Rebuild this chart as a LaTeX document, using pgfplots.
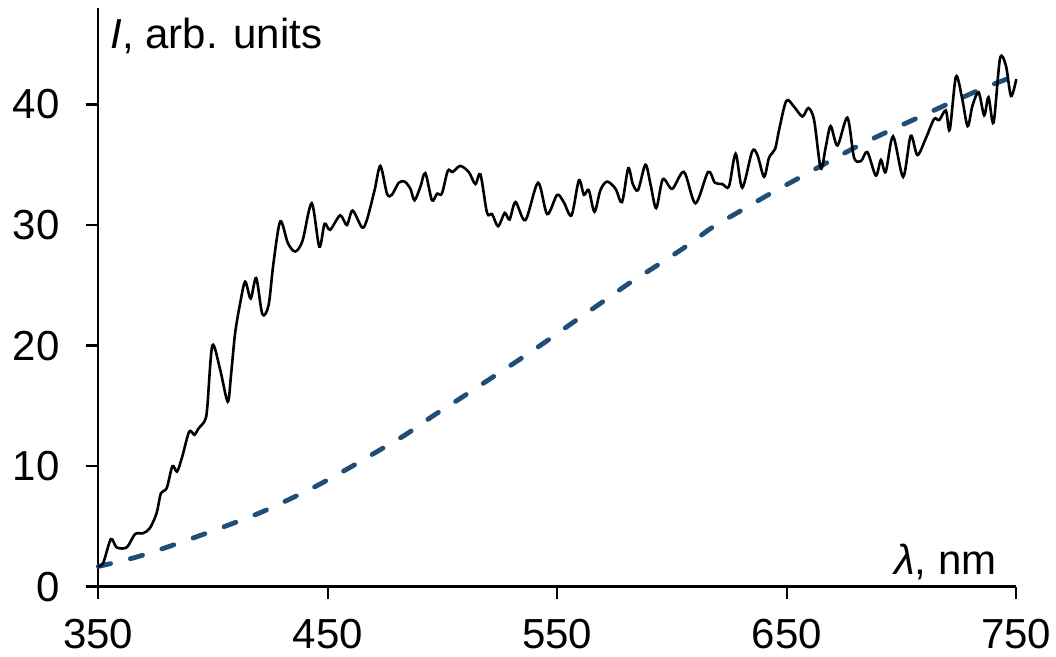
\documentclass[border=0pt]{standalone}
\usepackage{fontspec}
\setmainfont{Liberation Sans}
\usepackage{pgfplots}
\pgfplotsset{compat=1.18}
\definecolor{dashblue}{RGB}{31,78,121}
\pgfplotstableread{
x y
350 1.68
352.2 2.0
355.5 3.95
358 3.26
362.4 3.26
366 4.36
369.6 4.44
372.5 4.86
375.4 6.1
377.3 7.76
379.8 8.17
382.3 10.0
384.3 9.55
386.6 10.8
389.6 12.86
391.9 12.6
393.6 13.1
396.5 13.8
397.5 14.9
399.7 20.0
403.1 18.0
406.4 15.35
407.9 17.7
409.6 21.0
411.8 23.5
414 25.3
416.4 23.9
418.8 25.6
421.5 22.6
424.2 23.35
426.3 26.8
429.3 30.3
432.6 28.5
435.8 27.8
439.0 28.7
443.0 31.8
446.3 28.2
448.6 30.1
451.0 29.6
455.4 30.8
458.3 30.0
460.8 31.2
464.9 29.8
467.0 30.4
470.4 32.9
472.9 34.9
475.8 32.6
477.9 32.5
480.9 33.5
483.5 33.6
486.0 33.0
487.8 32.05
490.3 33.15
492.5 34.3
495.4 32.05
497.6 32.6
499.7 32.6
502.3 34.5
504.4 34.4
507.7 34.9
511.4 34.4
514.3 33.4
516.5 34.2
519.4 31.0
521.6 30.9
524.2 29.9
527.1 31.0
529.2 30.45
531.8 31.9
536.1 30.4
541.6 33.5
545.6 30.9
549.9 32.5
552.8 31.9
556.2 30.8
559.4 33.7
561.6 32.5
563.7 32.9
566.2 31.1
568.8 32.9
571.7 33.6
575.4 33.0
578.2 31.9
580.9 34.7
582.9 33.4
585.2 32.9
588.4 35.0
590.6 33.4
593.1 31.4
596.0 33.8
600.1 33.0
605.2 34.4
610.2 31.8
615.7 34.4
618.7 33.5
621.9 33.4
624.8 33.2
627.7 35.9
630.6 33.1
634.9 36.1
637.2 35.8
640.1 34.0
642.3 35.6
644.9 36.3
646.6 37.85
649.8 40.3
653.2 39.8
656.8 39.0
659.4 39.7
661.9 38.7
664.8 34.7
667.0 36.5
669.1 38.2
672.1 36.6
676.4 38.9
679.3 35.6
682.3 35.3
685.1 36.05
688.8 34.1
691.0 35.4
693.1 34.4
696.3 37.35
700.7 34.0
704.0 37.4
706.9 35.8
710.6 37.2
714.2 38.8
716.4 38.7
719.3 39.5
721.0 37.9
723.7 42.3
726.3 40.6
728.8 38.2
730.9 39.9
733.6 41.0
736.0 39.1
737.9 40.6
740.1 38.5
742.9 43.8
745.5 43.2
747.7 40.7
750 42.1
}\measured
\pgfplotstableread{
x y
350 1.68
367.4 2.5
389.3 3.9
418.3 5.96
435.8 7.48
446.0 8.45
459.1 9.83
471.4 11.2
483.8 12.6
496.1 14.2
508.4 15.7
520.4 17.2
532.4 18.7
544.8 20.3
556.7 21.9
568.8 23.5
580.8 25.1
593.1 26.6
605.9 28.2
617.5 29.8
629.2 31.1
643.7 32.7
652.4 33.6
681.5 36.6
707.7 38.95
733.9 41.2
750 42.4
}\model
\begin{document}
\fontsize{21pt}{25pt}\selectfont
\begin{tikzpicture}
\useasboundingbox (-49.15pt,-35.15pt) rectangle (478.85pt,293.35pt);
\begin{axis}[
  at={(0,0)}, anchor=south west,
  scale only axis, width=459pt, height=289.35pt,
  xmin=350, xmax=750, ymin=0, ymax=48,
  axis x line=bottom, axis y line=left,
  axis line style={-, line width=1.2pt, black},
  every outer x axis line/.append style={-},
  every outer y axis line/.append style={-},
  xtick={350,450,550,650,750}, ytick={0,10,20,30,40},
  minor tick num=0,
  tick align=outside, major tick length=6.3pt,
  tick style={line width=1.2pt, black},
  every tick label/.append style={font=\fontsize{21pt}{25pt}\selectfont},
  /pgf/number format/assume math mode=true,
  xticklabel style={anchor=north, inner sep=0pt, yshift=-9.9pt},
  yticklabel style={anchor=east, inner sep=0pt, xshift=-12.8pt},
  clip=false,
]
\addplot[dashblue, line width=2.4pt, line cap=round, dash pattern=on 6.3pt off 10.2pt, smooth] table {\model};
\addplot[black, line width=1.3pt, smooth, tension=0.5] table {\measured};
\end{axis}
\node[anchor=base west, inner sep=0pt] at (5.85pt,269.1pt) {\textit{I}, arb. units};
\node[anchor=base east, inner sep=0pt] at (449.35pt,5.85pt) {\textit{λ}, nm};
\end{tikzpicture}
\end{document}
